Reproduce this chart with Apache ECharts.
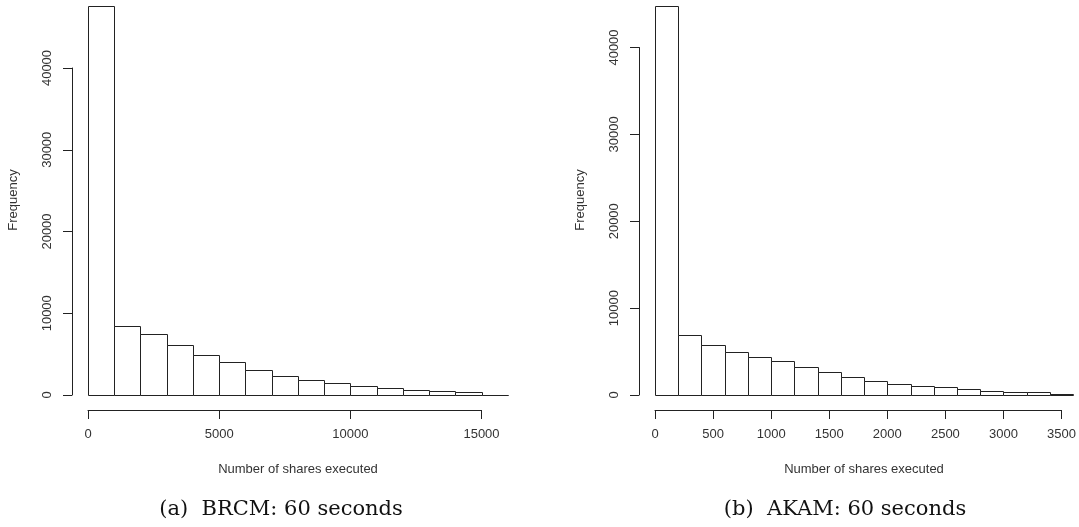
<!DOCTYPE html>
<html>
<head>
<meta charset="utf-8">
<script src="https://cdn.jsdelivr.net/npm/echarts@6/dist/echarts.min.js"></script>
<style>
html,body{margin:0;padding:0;background:#fff;}
#chart{width:1079px;height:527px;}
</style>
</head>
<body>
<div id="chart"></div>
<script>
// ---- Data: histogram of number of shares executed ----
// (a) BRCM: bin edges and counts
const brcmBreaks = [0,1000,2000,3000,4000,5000,6000,7000,8000,9000,10000,11000,12000,13000,14000,15000,16000];
const brcmCounts = [47600,8500,7500,6150,4950,4050,3050,2300,1800,1500,1050,850,660,450,420,60];
const brcmXTicks = [0,5000,10000,15000];
// (b) AKAM: bin edges and counts
const akamBreaks = [0,200,400,600,800,1000,1200,1400,1600,1800,2000,2200,2400,2600,2800,3000,3200,3400,3600];
const akamCounts = [44800,6950,5800,5000,4350,3900,3200,2650,2050,1650,1250,1050,900,700,500,400,380,170];
const akamXTicks = [0,500,1000,1500,2000,2500,3000,3500];
const yTicks = [0,10000,20000,30000,40000];

const captions = ['(a)  BRCM: 60 seconds', '(b)  AKAM: 60 seconds'];
const xTitle = 'Number of shares executed';
const yTitle = 'Frequency';

function bins(breaks, counts){
  return counts.map((c,i)=>[breaks[i], breaks[i+1], c]);
}

const ink = '#222';
const txt = '#333';

function renderBar(params, api){
  const x0 = api.value(0), x1 = api.value(1), y = api.value(2);
  const p0 = api.coord([x0, 0]);
  const p1 = api.coord([x1, y]);
  return {
    type: 'rect',
    shape: {x: Math.round(p0[0])+0.5, y: Math.round(p1[1])+0.5,
            width: Math.round(p1[0])-Math.round(p0[0]), height: Math.round(p0[1])-Math.round(p1[1])},
    style: {fill: '#fff', stroke: ink, lineWidth: 1}
  };
}

const plain = v => String(v);

function xAx(gi, ticks){
  return {
    gridIndex: gi, type: 'value', min: ticks[0], max: ticks[ticks.length-1],
    interval: ticks[1]-ticks[0], offset: 15,
    axisLine: {show: true, onZero: false, lineStyle: {color: ink, width: 1}},
    axisTick: {show: true, length: 9, lineStyle: {color: ink, width: 1}},
    axisLabel: {fontFamily: 'Liberation Sans', fontSize: 13, color: txt, margin: 18, formatter: plain},
    splitLine: {show: false}
  };
}
function yAx(gi){
  return {
    gridIndex: gi, type: 'value', min: yTicks[0], max: yTicks[yTicks.length-1],
    interval: yTicks[1]-yTicks[0], offset: 16,
    axisLine: {show: true, onZero: false, lineStyle: {color: ink, width: 1}},
    axisTick: {show: true, length: 9, lineStyle: {color: ink, width: 1}},
    axisLabel: {fontFamily: 'Liberation Sans', fontSize: 13, color: txt, margin: 18, rotate: 90, formatter: plain},
    splitLine: {show: false}
  };
}

const chart = echarts.init(document.getElementById('chart'), null, {renderer: 'canvas'});
const option = {
  backgroundColor: '#fff',
  animation: false,
  grid: [
    {left: 88, top: 68, width: 393.5, height: 327},
    {left: 655, top: 47.5, width: 407, height: 347.5}
  ],
  xAxis: [xAx(0, brcmXTicks), xAx(1, akamXTicks)],
  yAxis: [yAx(0), yAx(1)],
  series: [
    {type: 'custom', xAxisIndex: 0, yAxisIndex: 0, clip: false, renderItem: renderBar,
     data: bins(brcmBreaks, brcmCounts)},
    {type: 'custom', xAxisIndex: 1, yAxisIndex: 1, clip: false, renderItem: renderBar,
     data: bins(akamBreaks, akamCounts)}
  ],
  graphic: [
    {type: 'text', x: 13, y: 200, rotation: Math.PI/2,
     style: {text: yTitle, font: '13px "Liberation Sans"', fill: txt, textAlign: 'center', textVerticalAlign: 'middle'}},
    {type: 'text', x: 580, y: 200, rotation: Math.PI/2,
     style: {text: yTitle, font: '13px "Liberation Sans"', fill: txt, textAlign: 'center', textVerticalAlign: 'middle'}},
    {type: 'text', x: 298, y: 469,
     style: {text: xTitle, font: '13px "Liberation Sans"', fill: txt, textAlign: 'center', textVerticalAlign: 'middle'}},
    {type: 'text', x: 864, y: 469,
     style: {text: xTitle, font: '13px "Liberation Sans"', fill: txt, textAlign: 'center', textVerticalAlign: 'middle'}},
    {type: 'text', x: 281, y: 510,
     style: {text: captions[0], font: '21px "DejaVu Serif"', fill: '#111', textAlign: 'center', textVerticalAlign: 'middle'}},
    {type: 'text', x: 845, y: 510,
     style: {text: captions[1], font: '21px "DejaVu Serif"', fill: '#111', textAlign: 'center', textVerticalAlign: 'middle'}}
  ]
};
chart.setOption(option);
</script>
</body>
</html>
